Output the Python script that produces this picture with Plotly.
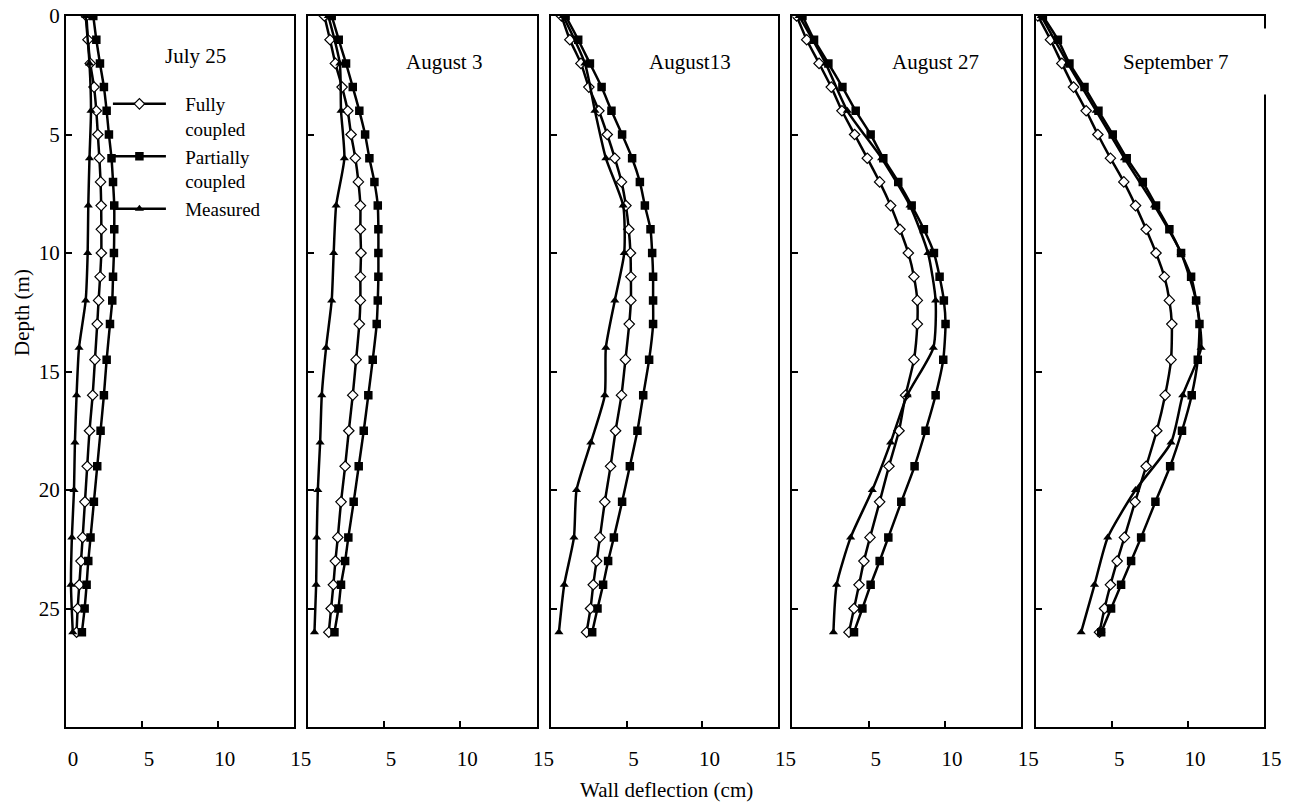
import plotly.graph_objects as go

# ---- data ----
depth_model = [0, 1, 2, 3, 4, 5, 6, 7, 8, 9, 10, 11, 12, 13, 14.5, 16, 17.5, 19, 20.5, 22, 23, 24, 25, 26]
depth_measured = [0, 2, 4, 6, 8, 10, 12, 14, 16, 18, 20, 22, 24, 26]

panel_titles = ["July 25", "August 3", "August13", "August 27", "September 7"]
series_names = ["Fully<br>coupled", "Partially<br>coupled", "Measured"]

fully_jul25 = [1.35, 1.45, 1.6, 1.85, 2.0, 2.1, 2.2, 2.28, 2.32, 2.33, 2.33, 2.25, 2.15, 2.06, 1.91, 1.76, 1.55, 1.4, 1.25, 1.1, 0.99, 0.88, 0.77, 0.7]
partial_jul25 = [1.8, 2.0, 2.24, 2.5, 2.68, 2.83, 3.0, 3.1, 3.18, 3.18, 3.16, 3.1, 3.05, 2.9, 2.68, 2.5, 2.28, 2.06, 1.84, 1.62, 1.47, 1.36, 1.23, 1.05]
measured_jul25 = [1.3, 1.55, 1.65, 1.55, 1.47, 1.43, 1.3, 0.86, 0.7, 0.59, 0.53, 0.39, 0.33, 0.45]

fully_aug3 = [1.09, 1.46, 1.81, 2.25, 2.62, 2.84, 3.12, 3.32, 3.45, 3.45, 3.49, 3.45, 3.45, 3.38, 3.17, 2.95, 2.69, 2.45, 2.18, 1.97, 1.81, 1.68, 1.53, 1.38]
partial_aug3 = [1.57, 2.03, 2.51, 2.95, 3.38, 3.76, 4.04, 4.37, 4.59, 4.63, 4.63, 4.63, 4.59, 4.52, 4.26, 3.97, 3.67, 3.34, 3.01, 2.66, 2.45, 2.18, 2.01, 1.75]
measured_aug3 = [1.35, 2.1, 2.18, 2.4, 1.86, 1.70, 1.57, 1.2, 0.92, 0.81, 0.66, 0.59, 0.55, 0.44]

fully_aug13 = [0.72, 1.27, 2.0, 2.52, 3.18, 3.73, 4.23, 4.67, 4.96, 5.15, 5.26, 5.29, 5.29, 5.18, 4.93, 4.67, 4.28, 3.95, 3.57, 3.25, 3.03, 2.81, 2.63, 2.37]
partial_aug13 = [0.99, 1.82, 2.59, 3.36, 4.01, 4.71, 5.37, 5.88, 6.21, 6.58, 6.69, 6.75, 6.75, 6.75, 6.49, 6.1, 5.72, 5.22, 4.71, 4.17, 3.79, 3.46, 3.09, 2.74]
measured_aug13 = [0.83, 2.26, 2.92, 3.64, 4.78, 4.85, 4.23, 3.64, 3.57, 2.65, 1.71, 1.54, 0.9, 0.55]

fully_aug27 = [0.28, 0.94, 1.75, 2.55, 3.25, 4.08, 4.91, 5.72, 6.44, 7.05, 7.6, 7.97, 8.19, 8.19, 7.97, 7.42, 6.99, 6.33, 5.72, 5.09, 4.69, 4.37, 4.04, 3.71]
partial_aug27 = [0.66, 1.42, 2.36, 3.28, 4.15, 5.13, 5.96, 6.94, 7.82, 8.62, 9.28, 9.65, 9.93, 10.04, 9.89, 9.39, 8.73, 8.01, 7.14, 6.29, 5.72, 5.13, 4.59, 4.04]
measured_aug27 = [0.44, 2.18, 3.6, 5.85, 7.71, 8.89, 9.39, 9.24, 7.53, 6.44, 5.24, 3.82, 2.9, 2.69]

fully_sep7 = [0.11, 0.94, 1.69, 2.46, 3.29, 4.06, 4.89, 5.77, 6.54, 7.24, 7.89, 8.44, 8.77, 8.93, 8.88, 8.49, 7.94, 7.24, 6.51, 5.81, 5.33, 4.89, 4.5, 4.17]
partial_sep7 = [0.44, 1.43, 2.19, 3.18, 4.1, 5.04, 5.96, 7.02, 7.89, 8.77, 9.54, 10.2, 10.53, 10.75, 10.64, 10.24, 9.6, 8.82, 7.85, 6.91, 6.25, 5.59, 4.93, 4.28]
measured_sep7 = [0.33, 2.08, 3.95, 5.81, 7.79, 9.54, 10.53, 10.86, 9.65, 8.88, 6.54, 4.71, 3.84, 2.96]

x_ticks_first = [0, 5, 10, 15]
x_ticks_other = [5, 10, 15]
y_ticks = [0, 5, 10, 15, 20, 25]

fully_all = [fully_jul25, fully_aug3, fully_aug13, fully_aug27, fully_sep7]
partial_all = [partial_jul25, partial_aug3, partial_aug13, partial_aug27, partial_sep7]
measured_all = [measured_jul25, measured_aug3, measured_aug13, measured_aug27, measured_sep7]

# ---- layout geometry ----
W, H = 1291, 805
WE = 1275.0  # effective drawing width observed in the viewer
panel_px = [(66, 294), (308, 537), (551, 779), (793, 1022), (1037, 1265)]
FONT = "Liberation Serif, Times New Roman, serif"
FS = 21
LFS = 19
PAD = "&nbsp;" * 3

fig = go.Figure()

line_style = dict(color="black", width=2.5, shape="spline", smoothing=0.6)
for i in range(5):
    xa = "x" if i == 0 else f"x{i+1}"
    ya = "y" if i == 0 else f"y{i+1}"
    show = (i == 0)
    fig.add_trace(go.Scatter(
        x=fully_all[i], y=depth_model, xaxis=xa, yaxis=ya, mode="lines+markers",
        name=PAD + series_names[0].replace("<br>", "<br>" + PAD), legendgroup="f", showlegend=show,
        line=line_style,
        marker=dict(symbol="diamond", size=8, color="white", line=dict(color="black", width=1.2))))
    fig.add_trace(go.Scatter(
        x=partial_all[i], y=depth_model, xaxis=xa, yaxis=ya, mode="lines+markers",
        name=PAD + series_names[1].replace("<br>", "<br>" + PAD), legendgroup="p", showlegend=show,
        line=line_style,
        marker=dict(symbol="square", size=8.5, color="black")))
    fig.add_trace(go.Scatter(
        x=measured_all[i], y=depth_measured, xaxis=xa, yaxis=ya, mode="lines+markers",
        name=PAD + series_names[2], legendgroup="m", showlegend=show,
        line=line_style,
        marker=dict(symbol="triangle-up", size=8, color="black")))

layout = dict(
    width=W, height=H, autosize=False,
    margin=dict(l=0, r=0, t=16, b=78),
    paper_bgcolor="white", plot_bgcolor="white",
    font=dict(family=FONT, size=FS, color="black"),
    showlegend=True,
    legend=dict(x=108 / WE, y=(727 - 85) / 711, xanchor="left", yanchor="top",
                bgcolor="rgba(0,0,0,0)", borderwidth=0, valign="top",
                itemwidth=53, tracegroupgap=0,
                font=dict(family=FONT, size=LFS, color="black")),
)
for i, (x0, x1) in enumerate(panel_px):
    sfx = "" if i == 0 else str(i + 1)
    anchor_x = "x" + sfx
    anchor_y = "y" + sfx
    layout["xaxis" + sfx] = dict(
        domain=[x0 / WE, x1 / WE], anchor=anchor_y, range=[0, 15],
        tickmode="array", tickvals=x_ticks_first if i == 0 else x_ticks_other,
        ticks="inside", ticklen=6, tickwidth=1.5, tickcolor="black",
        showline=True, linecolor="black", linewidth=2, mirror=True,
        showgrid=False, zeroline=False, ticklabelstandoff=12, ticklabelshift=7,
        tickfont=dict(family=FONT, size=FS, color="black"))
    layout["yaxis" + sfx] = dict(
        domain=[0, 1], anchor=anchor_x, range=[30, 0],
        tickmode="array", tickvals=y_ticks,
        ticks="inside", ticklen=6, tickwidth=1.5, tickcolor="black",
        showline=True, linecolor="black", linewidth=2, mirror=True,
        showgrid=False, zeroline=False, showticklabels=(i == 0),
        tickfont=dict(family=FONT, size=FS, color="black"))
fig.update_layout(**layout)

# panel titles
title_px = [(196, 56), (444, 62), (691, 62), (936, 62), (1199, 62)]
for i, (tx, ty) in enumerate(title_px):
    extra = {}
    if i == 4:
        extra = dict(bgcolor="white", width=150, height=63, align="left")
    fig.add_annotation(x=tx / WE, y=(727 - ty) / 711, xref="paper", yref="paper",
                       text=panel_titles[i], showarrow=False,
                       xanchor="center", yanchor="middle",
                       font=dict(family=FONT, size=FS, color="black"), **extra)

fig.add_annotation(x=22 / WE, y=(727 - 312) / 711, xref="paper", yref="paper",
                   text="Depth (m)", showarrow=False, textangle=-90,
                   xanchor="center", yanchor="middle",
                   font=dict(family=FONT, size=FS, color="black"))
fig.add_annotation(x=667 / WE, y=(727 - 790) / 711, xref="paper", yref="paper",
                   text="Wall deflection (cm)", showarrow=False,
                   xanchor="center", yanchor="middle",
                   font=dict(family=FONT, size=FS, color="black"))

fig.write_html("out.html")
